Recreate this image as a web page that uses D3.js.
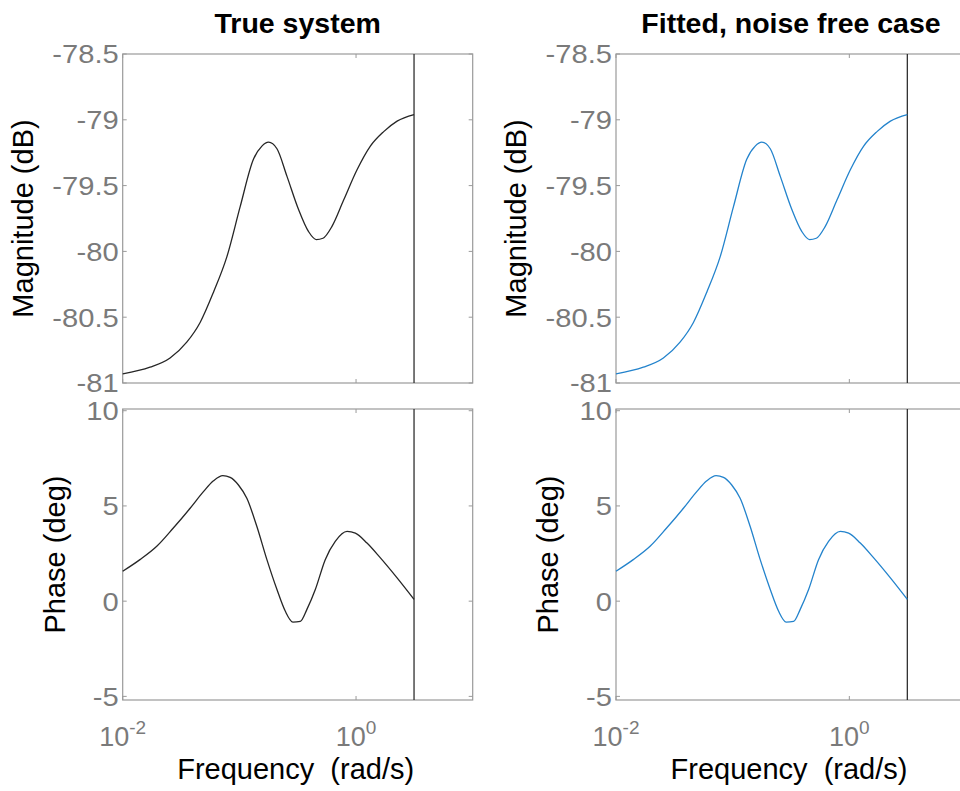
<!DOCTYPE html>
<html><head><meta charset="utf-8">
<script src="https://cdn.jsdelivr.net/npm/d3@7"></script>
<style>
body{margin:0;background:#fff;overflow:hidden;}
svg{display:block;}
text{font-family:"Liberation Sans",Arial,Helvetica,sans-serif;}
</style></head>
<body><svg id="c" width="960" height="791"></svg>
<script>
// ---- data ----
const titles = ["True system", "Fitted, noise free case"];
const magTicks = [-81, -80.5, -80, -79.5, -79, -78.5];
const phaseTicks = [-5, 0, 5, 10];
const freqTicks = [0.01, 1];
const freqTickLabels = [["10", "-2"], ["10", "0"]];
const nyquist = Math.PI;

const magFreq = [0.01, 0.01714, 0.02547, 0.0354, 0.0461, 0.06, 0.0782, 0.1016, 0.132, 0.156, 0.178, 0.21,
  0.256, 0.321, 0.392, 0.456, 0.521, 0.622, 0.783, 1.02, 1.327, 1.726, 2.249, 3.1416];
const trueMag = [-80.93, -80.88, -80.81, -80.69, -80.54, -80.31, -80.04, -79.66, -79.30, -79.20, -79.17, -79.22,
  -79.43, -79.68, -79.85, -79.91, -79.90, -79.81, -79.61, -79.38, -79.20, -79.09, -79.01, -78.96];
const fitMag = [-80.93, -80.88, -80.81, -80.69, -80.54, -80.31, -80.04, -79.66, -79.30, -79.20, -79.17, -79.22,
  -79.43, -79.68, -79.85, -79.91, -79.90, -79.81, -79.61, -79.38, -79.20, -79.09, -79.01, -78.96];

const phaseFreq = [0.01, 0.01406, 0.01959, 0.02716, 0.03784, 0.0492, 0.06, 0.0721, 0.0834, 0.0982, 0.1159,
  0.1413, 0.1722, 0.21, 0.2472, 0.2877, 0.3327, 0.3793, 0.4477, 0.5445, 0.6637, 0.8375, 0.9863, 1.2417, 1.618,
  2.249, 3.1416];
const truePhase = [1.57, 2.18, 2.88, 3.84, 4.88, 5.75, 6.32, 6.59, 6.50, 6.10, 5.40, 3.92, 2.18, 0.61, -0.52,
  -1.10, -1.06, -0.43, 0.61, 2.18, 3.14, 3.66, 3.57, 3.05, 2.27, 1.22, 0.09];
const fitPhase = [1.57, 2.18, 2.88, 3.84, 4.88, 5.75, 6.32, 6.59, 6.50, 6.10, 5.40, 3.92, 2.18, 0.61, -0.52,
  -1.10, -1.06, -0.43, 0.61, 2.18, 3.14, 3.66, 3.57, 3.05, 2.27, 1.22, 0.09];

// ---- layout / style ----
const svg = d3.select("#c");
const panels = [
  {x0: 122.7, title: titles[0], mag: trueMag, phase: truePhase, color: "#262626"},
  {x0: 616, title: titles[1], mag: fitMag, phase: fitPhase, color: "#2383cc"}
];
const W = 350;
const magTop = 54, magBot = 383, phTop = 409, phBot = 700;
const frameColor = "#9a9a9a", tickTextColor = "#7a7a7a";
const tickFont = 26, labelFont = 29, titleFont = 28.5;

function widen(sel, k) {
  sel.each(function () {
    const len = this.getComputedTextLength();
    d3.select(this).attr("textLength", len * k).attr("lengthAdjust", "spacingAndGlyphs");
  });
}

panels.forEach(p => {
  const x = d3.scaleLog().domain([0.01, 10]).range([p.x0, p.x0 + W]);
  const yM = d3.scaleLinear().domain([-81, -78.5]).range([magBot, magTop]);
  const yP = d3.scaleLinear().domain([-5.19, 10.09]).range([phBot, phTop]);
  const g = svg.append("g");

  const sub = [
    {y: yM, ticks: magTicks, data: p.mag, freq: magFreq, top: magTop, bot: magBot, label: "Magnitude (dB)", lx: p.x0 - 90},
    {y: yP, ticks: phaseTicks, data: p.phase, freq: phaseFreq, top: phTop, bot: phBot, label: "Phase (deg)", lx: p.x0 - 58}
  ];

  sub.forEach(s => {
    g.append("rect").attr("x", p.x0).attr("y", s.top).attr("width", W).attr("height", s.bot - s.top)
      .attr("fill", "none").attr("stroke", frameColor).attr("stroke-width", 1.2);
    s.ticks.forEach(t => {
      const yy = s.y(t);
      g.append("line").attr("x1", p.x0).attr("x2", p.x0 + 4).attr("y1", yy).attr("y2", yy).attr("stroke", frameColor);
      g.append("line").attr("x1", p.x0 + W - 4).attr("x2", p.x0 + W).attr("y1", yy).attr("y2", yy).attr("stroke", frameColor);
      const tt = g.append("text").attr("x", p.x0 - 4).attr("y", yy).attr("dy", "0.36em").attr("text-anchor", "end")
        .attr("font-size", tickFont).attr("fill", tickTextColor).text(String(t));
      widen(tt, 1.12);
    });
    freqTicks.forEach(f => {
      const xx = x(f);
      g.append("line").attr("x1", xx).attr("x2", xx).attr("y1", s.top).attr("y2", s.top + 4).attr("stroke", frameColor);
      g.append("line").attr("x1", xx).attr("x2", xx).attr("y1", s.bot - 4).attr("y2", s.bot).attr("stroke", frameColor);
    });
    g.append("line").attr("x1", x(nyquist)).attr("x2", x(nyquist)).attr("y1", s.top).attr("y2", s.bot)
      .attr("stroke", "#303030").attr("stroke-width", 1.3);
    const line = d3.line().x((d, i) => x(s.freq[i])).y(d => s.y(d)).curve(d3.curveMonotoneX);
    g.append("path").datum(s.data).attr("d", line).attr("fill", "none")
      .attr("stroke", p.color).attr("stroke-width", 1.3);
    g.append("text").attr("transform", `translate(${s.lx},${(s.top + s.bot) / 2}) rotate(-90)`)
      .attr("text-anchor", "middle").attr("font-size", labelFont).attr("fill", "#000").text(s.label);
  });

  freqTicks.forEach((f, i) => {
    const t = g.append("text").attr("x", x(f)).attr("y", 746).attr("text-anchor", "middle")
      .attr("font-size", 27).attr("fill", tickTextColor);
    t.append("tspan").text(freqTickLabels[i][0]);
    t.append("tspan").attr("dy", -12).attr("font-size", 19).text(freqTickLabels[i][1]);
  });
  g.append("text").attr("x", p.x0 + W / 2 - 2).attr("y", 779).attr("text-anchor", "middle")
    .attr("font-size", labelFont).attr("fill", "#000").style("white-space", "pre").text("Frequency  (rad/s)");
  g.append("text").attr("x", p.x0 + W / 2).attr("y", 33).attr("text-anchor", "middle")
    .attr("font-size", titleFont).attr("font-weight", "bold").attr("fill", "#000").text(p.title);
});
</script></body></html>
